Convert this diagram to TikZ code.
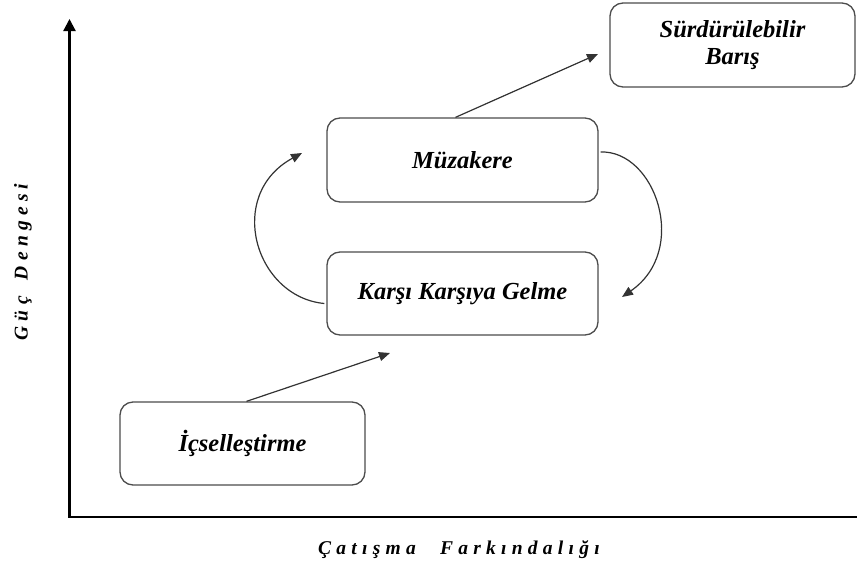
\documentclass[tikz,border=0pt]{standalone}
\usepackage{fontspec}
\setmainfont{Liberation Serif}
\usetikzlibrary{arrows.meta,calc}
\begin{document}
\begin{tikzpicture}[x=1pt,y=-1pt,
  stage/.style={draw=black!70, line width=1.3pt, rounded corners=13pt,
    minimum height=83pt, align=center, inner sep=0pt,
    font=\fontsize{24.5}{27}\selectfont\bfseries\itshape},
  flow/.style={draw=black!80, line width=1.2pt, -{Triangle[length=11pt,width=9pt]}},
  axis/.style={draw=black, line width=2.2pt},
  axislabel/.style={inner sep=0pt,
    font=\fontsize{19.5}{22}\selectfont\bfseries\itshape\addfontfeatures{LetterSpace=27}}
]
\useasboundingbox (0,0) rectangle (857,565);

% axes
\coordinate (origin) at (69.5,517);
\coordinate (ytop) at (69.5,19);
\coordinate (xend) at (860,517);
\draw[axis, {Triangle[length=12pt,width=12pt]}-] (ytop) -- (origin) -- (xend);

\node[axislabel, rotate=90] (ylab) at (23,262) {Güç\hspace{6pt} Dengesi};
\node[axislabel] (xlab) at (459,550) {Çatışma\hspace{14pt} Farkındalığı};

% stages
\node[stage, minimum width=245pt] (ic) at (242.5,443.5) {İçselleştirme};
\node[stage, minimum width=271pt] (kk) at (462.5,293.5) {Karşı Karşıya Gelme};
\node[stage, minimum width=271pt, minimum height=84pt] (mz) at (462.5,160) {Müzakere};
\node[stage, minimum width=245pt, minimum height=84pt] (sb) at (732.5,45) {Sürdürülebilir\\Barış};

% arrow tips that stop short of the boxes
\coordinate (t1) at (390,353);
\coordinate (t2) at (598,54);
\coordinate (t3) at (622,297);
\coordinate (t4) at (302,153);

\draw[flow] ($(ic.north)+(4,0)$) -- (t1);
\draw[flow] ($(mz.north)+(-7,0)$) -- (t2);
\draw[flow] ($(mz.east)+(2,-8)$) .. controls (655,150) and (690,250) .. (t3);
\draw[flow] ($(kk.west)+(-2,10)$) .. controls (255,297) and (225,195) .. (t4);
\end{tikzpicture}
\end{document}
